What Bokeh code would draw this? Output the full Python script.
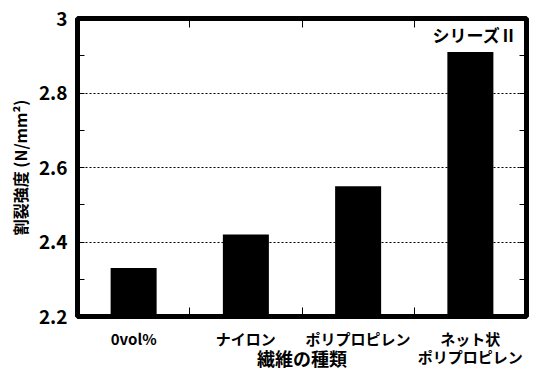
from bokeh.plotting import figure
from bokeh.models import Range1d, LinearAxis, FixedTicker, Label, NumeralTickFormatter, CustomJSTickFormatter
from bokeh.embed import file_html
from bokeh.resources import INLINE

categories = ["0vol%", "ナイロン", "ポリプロピレン", "ネット状\nポリプロピレン"]
values = [2.33, 2.42, 2.55, 2.91]
y_ticks = [2.2, 2.4, 2.6, 2.8, 3.0]
y_minor = [2.3, 2.5, 2.7, 2.9]
grid_ticks = [2.4, 2.6, 2.8]
series_label = "シリーズⅡ"
x_title = "繊維の種類"
y_title = "割裂強度 (N/mm²)"

FONT = "Noto Sans CJK JP"

xs = [i + 1 for i in range(len(categories))]
bounds = [i + 1.5 for i in range(len(categories) - 1)]

p = figure(frame_width=449, frame_height=298,
           min_border_left=77, min_border_right=7, min_border_top=18, min_border_bottom=55,
           x_range=Range1d(0.5, len(categories) + 0.5), y_range=Range1d(2.2, 3.0),
           output_backend="svg", toolbar_location=None)

p.outline_line_color = "black"
p.outline_line_width = 5
p.outline_line_alpha = 1.0
p.background_fill_color = "white"
p.border_fill_color = "white"

p.xgrid.visible = False
p.ygrid.ticker = FixedTicker(ticks=grid_ticks)
p.ygrid.grid_line_color = "black"
p.ygrid.grid_line_dash = "2 2"
p.ygrid.grid_line_width = 1

p.vbar(x=xs, top=values, bottom=2.2, width=0.41, color="black", line_color=None)

# Left axis
ya = p.yaxis[0]
ya.ticker = FixedTicker(ticks=y_ticks, minor_ticks=y_minor)
ya.formatter = NumeralTickFormatter(format="0.[0]")
ya.axis_line_color = None
ya.major_tick_in = 7
ya.major_tick_out = 0
ya.minor_tick_in = 7
ya.minor_tick_out = 0
ya.major_tick_line_color = "black"
ya.minor_tick_line_color = "black"
ya.major_label_text_color = "black"
ya.major_label_text_font = FONT
ya.major_label_text_font_style = "bold"
ya.major_label_text_font_size = "19px"
ya.major_label_standoff = 10
ya.axis_label = y_title
ya.axis_label_text_color = "black"
ya.axis_label_text_font = FONT
ya.axis_label_text_font_style = "bold"
ya.axis_label_text_font_size = "16px"
ya.axis_label_standoff = 4

# Bottom axis
xa = p.xaxis[0]
xa.ticker = FixedTicker(ticks=xs, minor_ticks=bounds)
xa.formatter = CustomJSTickFormatter(args=dict(labels=categories),
                                     code="const i = Math.round(tick) - 1; return (i >= 0 && i < labels.length) ? labels[i] : '';")
xa.axis_line_color = None
xa.major_tick_in = 0
xa.major_tick_out = 0
xa.minor_tick_in = 9
xa.minor_tick_out = 0
xa.minor_tick_line_color = "black"
xa.major_label_text_color = "black"
xa.major_label_text_font = FONT
xa.major_label_text_font_style = "bold"
xa.major_label_text_font_size = "15px"
xa.major_label_text_line_height = 0.9
xa.major_label_standoff = 11
xa.axis_label = x_title
xa.axis_label_text_color = "black"
xa.axis_label_text_font = FONT
xa.axis_label_text_font_style = "bold"
xa.axis_label_text_font_size = "18px"
xa.axis_label_text_line_height = 1.0
xa.axis_label_standoff = -25

blank = CustomJSTickFormatter(code="return '';")

# Right axis
ra = LinearAxis(ticker=FixedTicker(ticks=y_ticks, minor_ticks=y_minor), formatter=blank,
                axis_line_color=None, major_tick_in=7, major_tick_out=0,
                minor_tick_in=7, minor_tick_out=0,
                major_tick_line_color="black", minor_tick_line_color="black",
                major_label_standoff=0)
p.add_layout(ra, "right")

# Top axis
ta = LinearAxis(ticker=FixedTicker(ticks=[], minor_ticks=bounds), formatter=blank,
                axis_line_color=None, major_tick_in=0, major_tick_out=0,
                minor_tick_in=9, minor_tick_out=0, minor_tick_line_color="black",
                major_label_standoff=0)
p.add_layout(ta, "above")

p.add_layout(Label(x=4.42, y=2.958, text=series_label,
                   text_font=FONT, text_font_style="bold", text_font_size="17px",
                   text_color="black",
                   text_align="right", text_baseline="middle"))

open("out.html", "w").write(file_html(p, INLINE))
